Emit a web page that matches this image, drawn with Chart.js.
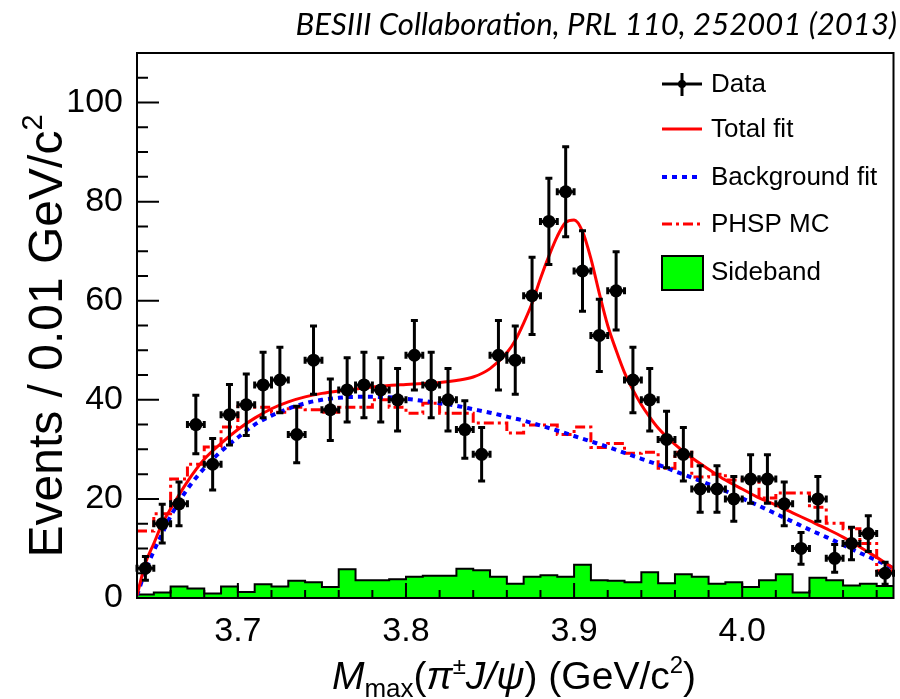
<!DOCTYPE html>
<html>
<head>
<meta charset="utf-8">
<script src="https://cdn.jsdelivr.net/npm/chart.js@4.4.1/dist/chart.umd.min.js"></script>
<style>
html, body { margin: 0; padding: 0; background: #fff; }
</style>
</head>
<body>
<canvas id="grafico" width="900" height="699"></canvas>
<script>
// centro dos bins (GeV/c^2), largura 0.01
const centros = [3.645,3.655,3.665,3.675,3.685,3.695,3.705,3.715,3.725,3.735,3.745,3.755,3.765,3.775,3.785,
  3.795,3.805,3.815,3.825,3.835,3.845,3.855,3.865,3.875,3.885,3.895,3.905,3.915,3.925,3.935,
  3.945,3.955,3.965,3.975,3.985,3.995,4.005,4.015,4.025,4.035,4.045,4.055,4.065,4.075,4.085];
// bordas dos bins
const bordas = [3.64,3.65,3.66,3.67,3.68,3.69,3.70,3.71,3.72,3.73,3.74,3.75,3.76,3.77,3.78,3.79,
  3.80,3.81,3.82,3.83,3.84,3.85,3.86,3.87,3.88,3.89,3.90,3.91,3.92,3.93,3.94,3.95,3.96,3.97,
  3.98,3.99,4.00,4.01,4.02,4.03,4.04,4.05,4.06,4.07,4.08,4.09];
const meiaLargura = 0.005;

const eventos = [6,15,19,35,27,37,39,43,44,33,48,38,42,43,42,40,49,43,40,34,29,49,48,61,76,
  82,66,53,62,44,40,32,29,22,22,20,24,24,19,10,20,8,11,13,5];
const erros = [2.4,3.9,4.4,5.9,5.2,6.1,6.2,6.6,6.6,5.7,6.9,6.2,6.5,6.6,6.5,6.3,7.0,6.6,6.3,5.8,
  5.4,7.0,6.9,7.8,8.7,9.1,8.1,7.3,7.9,6.6,6.3,5.7,5.4,4.7,4.7,4.5,4.9,4.9,4.4,3.2,4.5,2.8,3.3,3.6,2.2];

// ajuste total
const totalX = [3.640,3.645,3.650,3.655,3.660,3.670,3.680,3.690,3.700,3.710,3.720,3.730,3.740,3.750,
  3.760,3.770,3.780,3.790,3.800,3.810,3.820,3.830,3.840,3.850,3.860,3.865,3.870,3.875,3.880,3.885,
  3.890,3.895,3.900,3.905,3.910,3.915,3.920,3.925,3.930,3.935,3.940,3.945,3.950,3.960,3.970,3.980,
  3.990,4.000,4.010,4.020,4.030,4.040,4.050,4.060,4.070,4.080,4.090];
const totalY = [0.5,7,11,15,18,23.5,28,31.2,34,36.3,38.2,39.6,40.6,41.3,41.8,42.2,42.6,42.9,43.1,43.3,
  43.5,43.9,44.6,46.3,49.5,52,55.5,59.5,64.5,69,73,75.8,76.3,74,68.5,61.5,55,50,45.5,42,39,36.5,34.3,
  31,28.3,26,23.8,22,20.2,18.8,17.2,15.6,14,12.3,10.3,8.2,6];

// ajuste do fundo
const fundoX = [3.640,3.645,3.650,3.655,3.660,3.67,3.68,3.69,3.70,3.71,3.72,3.73,3.74,3.75,3.76,3.77,
  3.78,3.79,3.80,3.81,3.82,3.83,3.84,3.85,3.86,3.87,3.88,3.89,3.90,3.91,3.92,3.93,3.94,3.95,3.96,
  3.97,3.98,3.99,4.00,4.01,4.02,4.03,4.04,4.05,4.06,4.07,4.08,4.09];
const fundoY = [0.5,5.5,9.5,13,16.5,22,26.2,29.6,32.4,35,36.8,38.2,39.3,40,40.4,40.6,40.6,40.5,40.2,
  39.8,39.3,38.8,38.1,37.4,36.6,35.8,34.8,33.8,32.7,31.6,30.5,29.3,28.1,26.9,25.6,24.3,23,21.6,20.1,
  18.6,17,15.4,13.8,12.3,10.7,9.1,7.6,6];

// PHSP MC e sideband, por bin
const phsp = [13.5,17,24,27,30.5,34.5,39,38.5,37.5,38.5,38,37.5,38.5,38.5,40,38.5,37.3,39.3,37.3,37.3,
  35.3,35.3,33.3,34.9,34.9,33,34.5,30.4,31.2,29.2,29.4,26.2,29.4,24.4,25,23.8,24,20.2,21.2,21.2,
  18.3,15.1,14,11,5.5];
const sideband = [0.7,1.1,2.3,1.9,0.9,2.3,1.2,2.8,2.3,3.5,3.2,2.2,5.8,3.6,3.6,3.8,4.3,4.5,4.5,5.9,
  5.6,4.3,2.9,4.3,4.6,4.3,6.7,3.6,3.5,3.2,5.2,3.0,4.8,4.3,2.9,3.2,2.2,3.6,4.8,1.1,4.1,3.6,2.5,2.9,2.4];

const xTicks = [3.7, 3.8, 3.9, 4.0];
const xMenores = [3.66,3.68,3.72,3.74,3.76,3.78,3.82,3.84,3.86,3.88,3.92,3.94,3.96,3.98,4.02,4.04,4.06,4.08];
const yTicks = [0, 20, 40, 60, 80, 100];
const yMenores = [5,10,15,25,30,35,45,50,55,65,70,75,85,90,95,105];

const legendas = ["Data", "Total fit", "Background fit", "PHSP MC", "Sideband"];
const fonte = "'Liberation Sans', Arial, sans-serif";

function histo(vals) {
  const pts = vals.map((v, i) => ({ x: bordas[i], y: v }));
  pts.push({ x: bordas[bordas.length - 1], y: vals[vals.length - 1] });
  return pts;
}

function textoRico(ctx, partes, x, y) {
  let total = 0;
  partes.forEach(p => { ctx.font = `${p[2]} ${p[1]}px ${fonte}`; total += ctx.measureText(p[0]).width; });
  let cx = x - total / 2;
  partes.forEach(p => {
    ctx.font = `${p[2]} ${p[1]}px ${fonte}`;
    ctx.fillText(p[0], cx, y + p[3]);
    cx += ctx.measureText(p[0]).width;
  });
}

const moldura = {
  id: 'moldura',
  afterDatasetsDraw(chart) {
    const { ctx, chartArea: a, scales: { x, y } } = chart;
    ctx.save();
    // barras de erro
    ctx.strokeStyle = '#000';
    ctx.lineWidth = 3;
    centros.forEach((c, i) => {
      const px = x.getPixelForValue(c), py = y.getPixelForValue(eventos[i]);
      const y0 = y.getPixelForValue(eventos[i] - erros[i]), y1 = y.getPixelForValue(eventos[i] + erros[i]);
      const xa = x.getPixelForValue(c - meiaLargura), xb = x.getPixelForValue(c + meiaLargura);
      ctx.beginPath();
      ctx.moveTo(px, y0); ctx.lineTo(px, y1);
      ctx.moveTo(xa, py); ctx.lineTo(xb, py);
      ctx.moveTo(px - 3.5, y0); ctx.lineTo(px + 3.5, y0);
      ctx.moveTo(px - 3.5, y1); ctx.lineTo(px + 3.5, y1);
      ctx.moveTo(xa, py - 3.5); ctx.lineTo(xa, py + 3.5);
      ctx.moveTo(xb, py - 3.5); ctx.lineTo(xb, py + 3.5);
      ctx.stroke();
    });
    // caixa e ticks para dentro
    ctx.lineWidth = 2;
    ctx.strokeRect(a.left, a.top, a.right - a.left, a.bottom - a.top);
    ctx.beginPath();
    xTicks.forEach(v => { const p = x.getPixelForValue(v); ctx.moveTo(p, a.bottom); ctx.lineTo(p, a.bottom - 15); });
    xMenores.forEach(v => { const p = x.getPixelForValue(v); ctx.moveTo(p, a.bottom); ctx.lineTo(p, a.bottom - 8); });
    yTicks.forEach(v => { const p = y.getPixelForValue(v); ctx.moveTo(a.left, p); ctx.lineTo(a.left + 22, p); });
    yMenores.forEach(v => { const p = y.getPixelForValue(v); ctx.moveTo(a.left, p); ctx.lineTo(a.left + 11, p); });
    ctx.stroke();
    ctx.restore();
  },
  afterDraw(chart) {
    const { ctx, data } = chart;
    const ds = data.datasets;
    ctx.save();
    ctx.fillStyle = '#000';
    ctx.textBaseline = 'alphabetic';
    // titulo do eixo x
    textoRico(ctx, [['M', 39, 'italic', 0], ['max', 26, '', 8], ['(', 39, '', 0], ['π', 39, 'italic', 0],
      ['±', 24, '', -15], ['J/ψ', 39, 'italic', 0], [') (GeV/c', 39, '', 0], ['2', 24, '', -16], [')', 39, '', 0]], 514, 689);
    // titulo do eixo y
    ctx.save();
    ctx.translate(62, 336);
    ctx.rotate(-Math.PI / 2);
    textoRico(ctx, [['Events / 0.01 GeV/c', 48, '', 0], ['2', 29, '', -20]], 0, 0);
    ctx.restore();
    // referencia no topo
    const ref = 'BESIII Collaboration, PRL 110, 252001 (2013)';
    ctx.font = `italic 100px Lato, 'Open Sans', sans-serif`;
    const tam = 100 * 602 / ctx.measureText(ref).width;
    ctx.font = `italic ${tam}px Lato, 'Open Sans', sans-serif`;
    ctx.textAlign = 'right';
    ctx.fillText(ref, 897, 35);
    ctx.textAlign = 'left';
    // legenda
    const lx0 = 662, lx1 = 702, tx = 711;
    const ly = [84, 129, 177, 224, 272];
    ctx.font = `26px ${fonte}`;
    ctx.textBaseline = 'middle';
    legendas.forEach((t, i) => ctx.fillText(t, tx, ly[i] + 1));
    ctx.lineWidth = 3;
    ctx.strokeStyle = '#000';
    ctx.beginPath();
    ctx.moveTo(lx0, ly[0]); ctx.lineTo(lx1, ly[0]);
    ctx.moveTo(682, ly[0] - 11); ctx.lineTo(682, ly[0] + 12);
    ctx.stroke();
    ctx.beginPath(); ctx.arc(682, ly[0], 4, 0, 2 * Math.PI); ctx.fill();
    [1, 2, 3].forEach(k => {
      ctx.strokeStyle = ds[k].borderColor;
      ctx.lineWidth = ds[k].borderWidth;
      ctx.setLineDash(ds[k].borderDash || []);
      ctx.beginPath(); ctx.moveTo(lx0, ly[k]); ctx.lineTo(lx1, ly[k]); ctx.stroke();
    });
    ctx.setLineDash([]);
    ctx.fillStyle = ds[4].backgroundColor;
    ctx.fillRect(lx0, 256, 41, 34);
    ctx.strokeStyle = '#000'; ctx.lineWidth = 2;
    ctx.strokeRect(lx0, 256, 41, 34);
    ctx.restore();
  }
};

const ctx = document.getElementById('grafico').getContext('2d');
new Chart(ctx, {
  type: 'scatter',
  data: {
    datasets: [
      { label: legendas[0], data: centros.map((c, i) => ({ x: c, y: eventos[i] })),
        pointRadius: 6.5, pointBackgroundColor: '#000', pointBorderWidth: 0, showLine: false },
      { label: legendas[1], data: totalX.map((v, i) => ({ x: v, y: totalY[i] })), showLine: true,
        borderColor: '#ff0000', borderWidth: 3, pointRadius: 0, cubicInterpolationMode: 'monotone' },
      { label: legendas[2], data: fundoX.map((v, i) => ({ x: v, y: fundoY[i] })), showLine: true,
        borderColor: '#0000ff', borderWidth: 4, borderDash: [5, 5], pointRadius: 0, cubicInterpolationMode: 'monotone' },
      { label: legendas[3], data: histo(phsp), showLine: true, stepped: 'before',
        borderColor: '#ff0000', borderWidth: 3, borderDash: [10, 4, 3, 4], pointRadius: 0 },
      { label: legendas[4], data: histo(sideband), showLine: true, stepped: 'before', fill: 'origin',
        borderColor: '#000', backgroundColor: '#00ff00', borderWidth: 2, pointRadius: 0 }
    ]
  },
  options: {
    responsive: false,
    animation: false,
    layout: { padding: { top: 53, right: 4, left: 0, bottom: 0 } },
    plugins: { legend: { display: false }, tooltip: { enabled: false } },
    scales: {
      x: {
        type: 'linear', min: 3.64, max: 4.09,
        grid: { display: false, drawTicks: false }, border: { display: false },
        ticks: { color: '#000', padding: 13, font: { family: fonte, size: 34 }, callback: v => v.toFixed(1) },
        afterBuildTicks: s => { s.ticks = xTicks.map(v => ({ value: v })); },
        afterFit: s => { s.height = 101; }
      },
      y: {
        min: 0, max: 110,
        grid: { display: false, drawTicks: false }, border: { display: false },
        ticks: { color: '#000', padding: 14, font: { family: fonte, size: 34 } },
        afterBuildTicks: s => { s.ticks = yTicks.map(v => ({ value: v })); },
        afterFit: s => { s.width = 137; }
      }
    }
  },
  plugins: [moldura]
});
</script>
</body>
</html>
